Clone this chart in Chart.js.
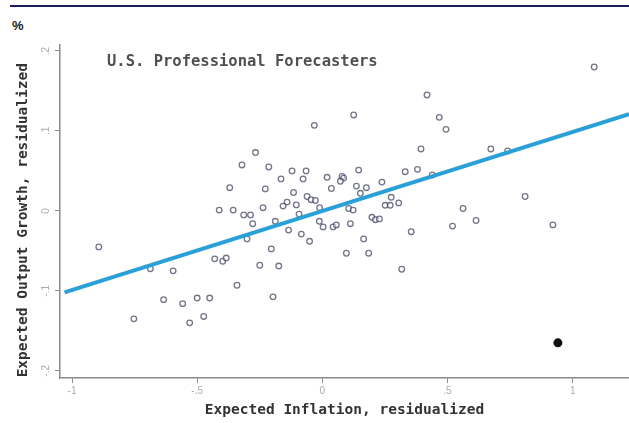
<!DOCTYPE html>
<html>
<head>
<meta charset="utf-8">
<script src="https://cdn.jsdelivr.net/npm/chart.js@4"></script>
<style>
  body { margin: 0; background: #fff; }
  #wrap { position: relative; width: 629px; height: 423px; overflow: hidden; }
  #rule { position: absolute; left: 10px; right: 0; top: 5px; height: 2px; background: #1e1b5e; }
  #unit { position: absolute; left: 12px; top: 18px; font: bold 13px "Liberation Sans", Arial, sans-serif; color: #222; }
  #panelTitle { position: absolute; left: 107px; top: 52px; font: bold 15.5px "DejaVu Sans Mono", monospace; color: #505050; }
  canvas { position: absolute; left: 0; top: 0; }
</style>
</head>
<body>
<div id="wrap">
  <div id="rule"></div>
  <div id="unit">%</div>
  <canvas id="scatter" width="629" height="423"></canvas>
  <div id="panelTitle">U.S. Professional Forecasters</div>
</div>
<script>
// forecaster residuals: expected inflation (x) vs expected output growth (y)
var inflationResid = [
  1.086, 0.418, 0.125, -0.032, 0.467, 0.494, 0.394, 0.673, 0.740, -0.267,
  -0.321, -0.214, -0.121, -0.065, 0.145, 0.331, 0.380, 0.439, -0.165, -0.077,
  0.019, 0.079, 0.085, 0.072, 0.238, -0.370, -0.228, -0.115, 0.036, 0.136,
  0.176, 0.152, 0.275, -0.061, -0.045, -0.028, -0.141, -0.157, -0.104, -0.011,
  -0.237, 0.251, 0.271, 0.305, 0.105, 0.123, -0.412, -0.356, -0.314, -0.287,
  -0.093, -0.278, -0.188, -0.012, 0.003, 0.043, 0.056, 0.198, 0.212, 0.228,
  0.112, -0.135, -0.084, -0.051, -0.301, 0.355, 0.165, 0.096, 0.185, -0.204,
  -0.430, -0.398, -0.384, -0.250, -0.174, -0.341, 0.317, -0.197, -0.893, -0.687,
  -0.596, -0.634, -0.558, -0.500, -0.450, -0.753, -0.474, -0.530, 0.562, 0.614,
  0.520, 0.810, 0.921
];
var growthResid = [
  0.180, 0.145, 0.120, 0.107, 0.117, 0.102, 0.0775, 0.0775, 0.075, 0.073,
  0.0575, 0.055, 0.050, 0.050, 0.051, 0.049, 0.052, 0.045, 0.040, 0.040,
  0.042, 0.043, 0.041, 0.037, 0.036, 0.029, 0.0275, 0.023, 0.028, 0.031,
  0.029, 0.022, 0.017, 0.018, 0.014, 0.013, 0.011, 0.006, 0.0075, 0.004,
  0.004, 0.007, 0.007, 0.010, 0.003, 0.001, 0.001, 0.001, -0.005, -0.005,
  -0.004, -0.016, -0.013, -0.013, -0.020, -0.020, -0.0175, -0.008, -0.011, -0.010,
  -0.016, -0.024, -0.029, -0.038, -0.035, -0.026, -0.035, -0.053, -0.053, -0.0475,
  -0.060, -0.063, -0.059, -0.068, -0.069, -0.093, -0.073, -0.1075, -0.045, -0.0725,
  -0.075, -0.111, -0.116, -0.109, -0.109, -0.135, -0.132, -0.140, 0.003, -0.012,
  -0.019, 0.018, -0.0175
];
// highlighted observation
var highlightX = [0.941];
var highlightY = [-0.165];
// fitted line end points
var fitX = [-1.03, 1.225];
var fitY = [-0.102, 0.121];

var xTicks = [-1, -0.5, 0, 0.5, 1];
var yTicks = [-0.2, -0.1, 0, 0.1, 0.2];

function toPoints(xs, ys) {
  return xs.map(function(x, i) { return { x: x, y: ys[i] }; });
}

// Stata style labels: .5 instead of 0.5
function stataLabel(v) {
  var s = String(Math.round(v * 10) / 10);
  return s.replace(/^0\./, ".").replace(/^-0\./, "-.");
}

var monoTitle = { family: "'DejaVu Sans Mono', monospace", size: 14.5, weight: "bold" };
var tickFont = { family: "'Liberation Sans', Arial, sans-serif", size: 10 };

new Chart(document.getElementById("scatter").getContext("2d"), {
  type: "scatter",
  data: {
    datasets: [
      {
        type: "line",
        data: toPoints(fitX, fitY),
        borderColor: "#2aa0d8",
        borderWidth: 4,
        pointRadius: 0,
        fill: false
      },
      {
        data: toPoints(inflationResid, growthResid),
        pointRadius: 2.8,
        pointBorderWidth: 1.3,
        pointBorderColor: "rgba(55, 60, 88, 0.7)",
        pointBackgroundColor: "rgba(255, 255, 255, 0.5)"
      },
      {
        data: toPoints(highlightX, highlightY),
        pointRadius: 4.5,
        pointBorderWidth: 0,
        pointBackgroundColor: "#111"
      }
    ]
  },
  options: {
    responsive: false,
    animation: false,
    layout: { autoPadding: false, padding: { top: 45, right: 0, left: 0, bottom: 0 } },
    plugins: { legend: { display: false }, tooltip: { enabled: false } },
    scales: {
      x: {
        type: "linear",
        min: -1.048,
        max: 1.225,
        afterBuildTicks: function(s) { s.ticks = xTicks.map(function(v) { return { value: v }; }); },
        afterFit: function(s) { s.height = 45; },
        border: { display: true, color: "#8a8a8a", width: 1.5 },
        grid: { drawOnChartArea: false, drawTicks: true, tickLength: 5, color: "#8a8a8a" },
        ticks: { color: "#aaa", font: tickFont, padding: 2, maxRotation: 0, callback: stataLabel },
        title: {
          display: true,
          text: "Expected Inflation, residualized",
          color: "#333",
          font: monoTitle,
          padding: { top: 0, bottom: 4 }
        }
      },
      y: {
        type: "linear",
        min: -0.209,
        max: 0.2075,
        afterBuildTicks: function(s) { s.ticks = yTicks.map(function(v) { return { value: v }; }); },
        afterFit: function(s) { s.width = 60; },
        border: { display: true, color: "#8a8a8a", width: 1.5 },
        grid: { drawOnChartArea: false, drawTicks: true, tickLength: 5, color: "#8a8a8a" },
        ticks: { color: "#aaa", font: tickFont, padding: 3, minRotation: 90, maxRotation: 90, crossAlign: "center", callback: stataLabel },
        title: {
          display: true,
          // trailing spaces nudge the centred title down a little
          text: "Expected Output Growth, residualized  ",
          color: "#333",
          font: monoTitle,
          padding: { top: 15, bottom: 0 }
        }
      }
    }
  }
});
</script>
</body>
</html>
